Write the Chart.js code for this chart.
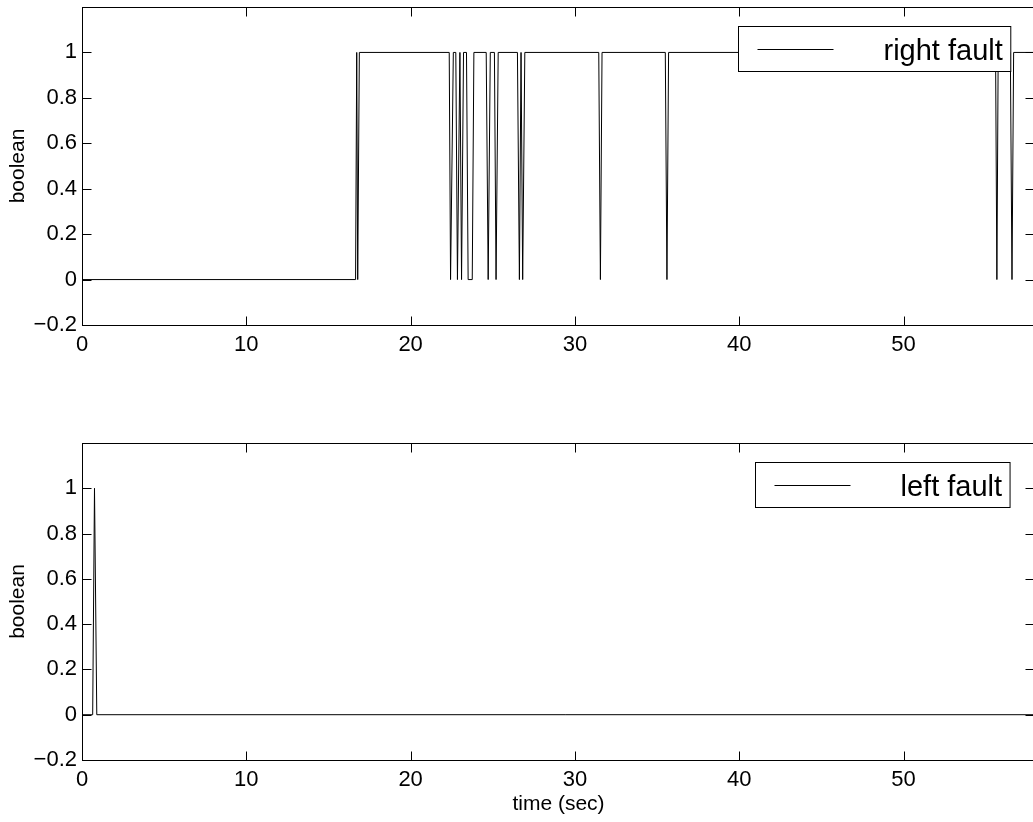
<!DOCTYPE html>
<html>
<head>
<meta charset="utf-8">
<title>right / left fault</title>
<script src="https://cdn.jsdelivr.net/npm/chart.js@4/dist/chart.umd.min.js"></script>
<style>
    html, body { margin: 0; padding: 0; background: #fff; overflow: hidden; }
    .panel { position: absolute; left: 0; width: 1040px; }
    #top-panel { top: 0; height: 410px; }
    #bottom-panel { top: 410px; height: 412px; }
</style>
</head>
<body>
<div class="panel" id="top-panel"><canvas id="rightChart" width="1040" height="410"></canvas></div>
<div class="panel" id="bottom-panel"><canvas id="leftChart" width="1040" height="412"></canvas></div>
<script>
// Axis ticks
const xTicks = [0, 10, 20, 30, 40, 50];
const xTickLabels = ['0', '10', '20', '30', '40', '50'];
const yTicks = [-0.2, 0, 0.2, 0.4, 0.6, 0.8, 1];
const yTickLabels = ['\u22120.2', '0', '0.2', '0.4', '0.6', '0.8', '1'];

// right fault signal (time in sec, boolean value)
const rightFaultTime = [0, 16.65, 16.72, 16.78, 16.88, 22.35, 22.43, 22.6, 22.75, 22.85,
    23.0, 23.1, 23.22, 23.4, 23.5, 23.75, 23.85, 24.6, 24.72, 24.85,
    25.1, 25.2, 25.33, 26.5, 26.62, 26.72, 26.82, 26.95, 31.45, 31.55,
    31.65, 35.5, 35.6, 35.7, 55.6, 55.68, 55.76, 56.5, 56.6, 56.7, 58];
const rightFaultValue = [0, 0, 1, 0, 1, 1, 0, 1, 1, 0,
    1, 0, 1, 1, 0, 0, 1, 1, 0, 1,
    1, 0, 1, 1, 0, 1, 0, 1, 1, 0,
    1, 1, 0, 1, 1, 0, 1, 1, 0, 1, 1];

// left fault signal
const leftFaultTime = [0, 0.65, 0.76, 0.9, 58];
const leftFaultValue = [0, 0, 1, 0, 0];

const FONT = '"Liberation Sans", Arial, Helvetica, sans-serif';
const TICK_LEN = 9;

// Frame, inward ticks on all four sides and the boxed legend
const matlabAxes = {
    id: 'matlabAxes',
    afterDraw(chart, args, opts) {
        const ctx = chart.ctx;
        const a = chart.chartArea;
        const xs = chart.scales.x;
        const ys = chart.scales.y;
        const L = Math.round(a.left) + 0.5, R = Math.round(a.right) - 0.5;
        const T = Math.round(a.top) + 0.5, B = Math.round(a.bottom) + 0.5;

        ctx.save();
        ctx.strokeStyle = '#000';
        ctx.lineWidth = 1;
        ctx.strokeRect(L, T, R - L, B - T);

        ctx.beginPath();
        xTicks.forEach(v => {
            const px = Math.round(xs.getPixelForValue(v)) + 0.5;
            ctx.moveTo(px, B); ctx.lineTo(px, B - TICK_LEN);
            ctx.moveTo(px, T); ctx.lineTo(px, T + TICK_LEN);
        });
        yTicks.forEach(v => {
            const py = Math.round(ys.getPixelForValue(v)) + 0.5;
            ctx.moveTo(L, py); ctx.lineTo(L + TICK_LEN, py);
            ctx.moveTo(R, py); ctx.lineTo(R - TICK_LEN, py);
        });
        ctx.stroke();

        // legend box
        const label = chart.data.datasets[0].label;
        ctx.font = '29px ' + FONT;
        const tw = ctx.measureText(label).width;
        const w = tw + 153, h = 45;
        const bx = Math.round(a.right - opts.right - w) + 0.5;
        const by = Math.round(a.top + opts.top) + 0.5;
        ctx.fillStyle = '#fff';
        ctx.fillRect(bx, by, w, h);
        ctx.strokeRect(bx, by, w, h);
        const cy = Math.round(by + h / 2) + 0.5;
        ctx.beginPath();
        ctx.moveTo(bx + 19, cy);
        ctx.lineTo(bx + 95, cy);
        ctx.stroke();
        ctx.fillStyle = '#000';
        ctx.textAlign = 'right';
        ctx.textBaseline = 'middle';
        ctx.fillText(label, bx + w - 8, cy + 2);
        ctx.restore();
    }
};

function makeChart(canvasId, label, times, values, cfg) {
    const points = times.map((t, i) => ({ x: t, y: values[i] }));
    return new Chart(document.getElementById(canvasId), {
        type: 'line',
        data: {
            datasets: [{
                label: label,
                data: points,
                borderColor: '#000',
                borderWidth: 1,
                pointRadius: 0,
                tension: 0,
                fill: false
            }]
        },
        options: {
            responsive: false,
            animation: false,
            layout: { padding: { top: cfg.padTop, right: 5, left: 0, bottom: 0 } },
            plugins: {
                legend: { display: false },
                tooltip: { enabled: false },
                matlabAxes: { right: 25, top: 19 }
            },
            scales: {
                x: {
                    type: 'linear',
                    min: 0,
                    max: 58,
                    grid: { display: false, drawTicks: false },
                    border: { display: false },
                    afterBuildTicks: s => { s.ticks = xTicks.map(v => ({ value: v })); },
                    afterFit: s => { s.height = cfg.xHeight; s.paddingRight = 0; },
                    ticks: {
                        color: '#000',
                        padding: 7,
                        maxRotation: 0,
                        font: { family: FONT, size: 22 },
                        callback: (v, i) => xTickLabels[i]
                    },
                    title: {
                        display: !!cfg.xTitle,
                        text: cfg.xTitle || '',
                        color: '#000',
                        padding: { top: 4, bottom: 5 },
                        font: { family: FONT, size: 21 }
                    }
                },
                y: {
                    type: 'linear',
                    min: -0.2,
                    max: 1.2,
                    grid: { display: false, drawTicks: false },
                    border: { display: false },
                    afterBuildTicks: s => { s.ticks = yTicks.map(v => ({ value: v })); },
                    afterFit: s => { s.width = 82; s.paddingTop = 0; s.paddingBottom = 0; },
                    ticks: {
                        color: '#000',
                        padding: 5,
                        font: { family: FONT, size: 22 },
                        callback: (v, i) => yTickLabels[i]
                    },
                    title: {
                        display: true,
                        text: 'boolean',
                        color: '#000',
                        padding: { top: 6, bottom: 4 },
                        font: { family: FONT, size: 21 }
                    }
                }
            }
        },
        plugins: [matlabAxes]
    });
}

document.addEventListener('DOMContentLoaded', () => {
    makeChart('rightChart', 'right fault', rightFaultTime, rightFaultValue,
        { padTop: 7, xHeight: 85 });
    makeChart('leftChart', 'left fault', leftFaultTime, leftFaultValue,
        { padTop: 33, xHeight: 62, xTitle: 'time (sec)' });
});
</script>
</body>
</html>
